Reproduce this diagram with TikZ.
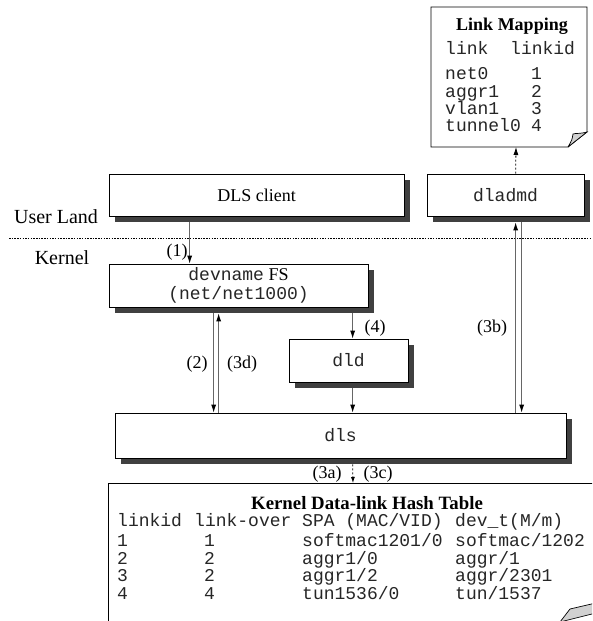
\documentclass[tikz,border=0pt]{standalone}
\usepackage{fontspec}
\setmainfont{Liberation Serif}
\setmonofont{Liberation Mono}
\usetikzlibrary{arrows.meta,shadows}
\begin{document}
\begin{tikzpicture}[x=1pt,y=-1pt,
  font=\fontsize{18}{20}\selectfont,
  box/.style={draw=black, fill=white, line width=0.7pt, inner sep=0pt, align=center,
    drop shadow={shadow xshift=6pt, shadow yshift=-6pt, opacity=1, fill=black!75}},
  conn/.style={draw=black!60, line width=0.9pt},
  tip/.style={-{Latex[length=8pt,width=5pt,black]}},
  dotc/.style={draw=black, line width=0.8pt, dash pattern=on 2pt off 2pt},
  lbl/.style={inner sep=0pt},
  side/.style={inner sep=0pt, font=\fontsize{20}{22}\selectfont},
  cell/.style={inner sep=0pt, anchor=base west, text=black!85, font=\fontsize{18}{20}\selectfont\ttfamily},
  ttl/.style={inner sep=0pt, anchor=base, font=\fontsize{18}{20}\selectfont\bfseries}
]
\clip (0,0) rectangle (592,621);
\useasboundingbox (0,0) rectangle (592,621);

% separator
\draw[line width=0.6pt, dash pattern=on 1.5pt off 1.2pt] (9,238) coordinate (sepL) -- (592,238) coordinate (sepR);
\node[side] (userland) at (56,217) {User Land};
\node[side] (kernel) at (62,258) {Kernel};

% boxes
\node[box, minimum width=295pt, minimum height=42pt] (client) at (256.5,195) {DLS client};
\node[box, minimum width=157pt, minimum height=42pt] (dladmd) at (505.5,195) {\color{black!85}\ttfamily dladmd};
\node[box, minimum width=259pt, minimum height=43pt] (devname) at (238.5,285.5) {{\color{black!85}\ttfamily devname} FS\\[-1pt]{\color{black!85}\ttfamily (net/net1000)}};
\node[box, minimum width=119pt, minimum height=43pt] (dld) at (348.5,360.5) {\color{black!85}\ttfamily dld};
\node[box, minimum width=451pt, minimum height=45pt] (dls) at (340.5,435.5) {\color{black!85}\ttfamily dls};

% Link mapping note
\coordinate (noteNW) at (431,7);
\coordinate (noteSW) at (431,147);
\draw[fill=white, line width=0.7pt] (noteNW) -- (587,7) -- (587,132) -- (568,147) -- (noteSW) -- cycle;
\filldraw[fill=black!18, line width=0.7pt] (568,147) -- (587,132) .. controls (580,134) and (576,133) .. (573,134) .. controls (572,140) .. (568,147);
\node[ttl] (lmtitle) at (512,30) {Link Mapping};
\node[cell] (lmh1) at (445,54) {link};
\node[cell] (lmh2) at (510,54) {linkid};
\node[cell] (lm1a) at (445,79) {net0};
\node[cell] (lm1b) at (531,79) {1};
\node[cell] (lm2a) at (445,97) {aggr1};
\node[cell] (lm2b) at (531,97) {2};
\node[cell] (lm3a) at (445,114) {vlan1};
\node[cell] (lm3b) at (531,114) {3};
\node[cell] (lm4a) at (445,131) {tunnel0};
\node[cell] (lm4b) at (531,131) {4};

% Kernel hash table
\coordinate (tabNW) at (108,483);
\draw[fill=white, line width=0.7pt] (108,640) -- (tabNW) -- (610,483);
\filldraw[fill=black!18, line width=0.7pt] (560,622) -- (570,609) -- (600,602) -- (600,612) -- cycle;
\node[ttl, font=\fontsize{18.8}{21}\selectfont\bfseries] (kttitle) at (367,509) {Kernel Data-link Hash Table};
\node[cell] (h1) at (117,526) {linkid};
\node[cell] (h2) at (194,526) {link-over};
\node[cell] (h3) at (302,526) {SPA (MAC/VID)};
\node[cell] (h4) at (455,526) {dev\_t(M/m)};
\node[cell] (r1a) at (117,546) {1};
\node[cell] (r1b) at (204,546) {1};
\node[cell] (r1c) at (302,546) {softmac1201/0};
\node[cell] (r1d) at (455,546) {softmac/1202};
\node[cell] (r2a) at (117,564) {2};
\node[cell] (r2b) at (204,564) {2};
\node[cell] (r2c) at (302,564) {aggr1/0};
\node[cell] (r2d) at (455,564) {aggr/1};
\node[cell] (r3a) at (117,581) {3};
\node[cell] (r3b) at (204,581) {2};
\node[cell] (r3c) at (302,581) {aggr1/2};
\node[cell] (r3d) at (455,581) {aggr/2301};
\node[cell] (r4a) at (117,599) {4};
\node[cell] (r4b) at (204,599) {4};
\node[cell] (r4c) at (302,599) {tun1536/0};
\node[cell] (r4d) at (455,599) {tun/1537};

% connectors
\draw[conn,tip] ([xshift=81pt,yshift=-6pt]client.south west) -- ([xshift=81pt]devname.north west);
\draw[conn,tip] ([xshift=105pt,yshift=-6pt]devname.south west) -- ([xshift=99pt]dls.north west);
\draw[conn,tip] ([xshift=104pt]dls.north west) -- ([xshift=110pt,yshift=-6pt]devname.south west);
\draw[conn,tip] ([xshift=244pt,yshift=-6pt]devname.south west) -- ([xshift=64pt]dld.north west);
\draw[conn,tip] ([xshift=64pt,yshift=-6pt]dld.south west) -- ([xshift=238pt]dls.north west);
\draw[conn,tip] ([xshift=401pt]dls.north west) -- ([xshift=89pt,yshift=-6pt]dladmd.south west);
\draw[conn,tip] ([xshift=95pt,yshift=-6pt]dladmd.south west) -- ([xshift=407pt]dls.north west);
\draw[dotc,-{Latex[length=8pt,width=5pt]}] ([xshift=89pt]dladmd.north west) -- ([xshift=85pt]noteSW);
\draw[dotc,-{Latex[length=6pt,width=4pt]}] ([xshift=238pt,yshift=-6pt]dls.south west) -- ([xshift=245pt]tabNW);

% labels
\node[lbl] (l1) at (177,252) {(1)};
\node[lbl] (l2) at (197,364) {(2)};
\node[lbl] (l3d) at (242,364) {(3d)};
\node[lbl] (l4) at (375,328) {(4)};
\node[lbl] (l3b) at (492,328) {(3b)};
\node[lbl] (l3a) at (327,474) {(3a)};
\node[lbl] (l3c) at (378,474) {(3c)};
\end{tikzpicture}
\end{document}
